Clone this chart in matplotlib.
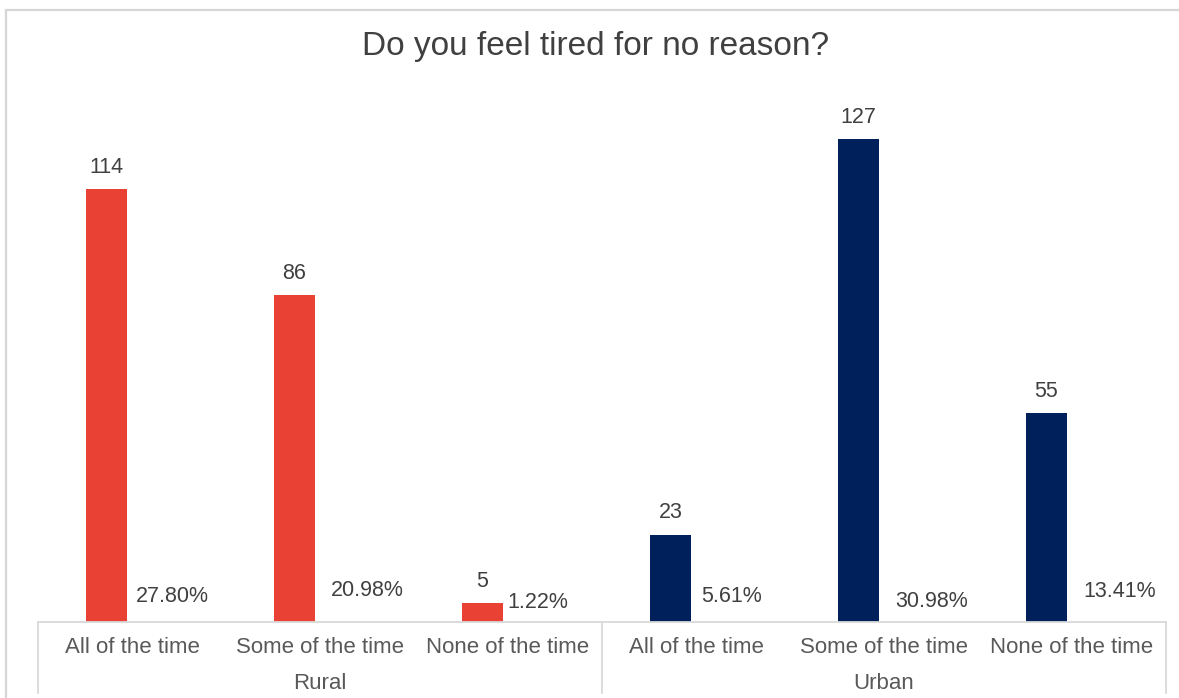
import matplotlib
matplotlib.use("Agg")
import matplotlib.pyplot as plt
from matplotlib.patches import Rectangle

plt.rcParams['font.family'] = ['Liberation Sans', 'DejaVu Sans']

# data
groups = ['Rural', 'Urban']
answers = ['All of the time', 'Some of the time', 'None of the time']
counts = [114, 86, 5, 23, 127, 55]
percents = ['27.80%', '20.98%', '1.22%', '5.61%', '30.98%', '13.41%']
group_colors = ['#E94234', '#00205B']

# layout: where each percentage label sits (offset from category centre, height above axis)
pct_label_dx = [0.214, 0.251, 0.160, 0.187, 0.251, 0.251]
pct_label_y = [6.6, 8.4, 5.0, 6.6, 5.5, 7.9]

W, H = 1179, 698
fig = plt.figure(figsize=(W / 100, H / 100), dpi=100)
ax = fig.add_axes([38 / W, 76 / H, 1128 / W, 532 / H])

n = len(answers)
xs = list(range(len(counts)))
colors = [group_colors[i // n] for i in xs]
bar_x = [x - 0.136 for x in xs]
ax.bar(bar_x, counts, width=0.22, color=colors)

text_col = '#595959'
for x, bx, c, p, dx, py in zip(xs, bar_x, counts, percents, pct_label_dx, pct_label_y):
    ax.annotate(str(c), (bx, c), xytext=(0, 8), textcoords='offset points',
                ha='center', va='bottom', fontsize=15.5, color='#404040')
    ax.text(x + dx, py, p, ha='center', va='center', fontsize=15.5, color='#404040')

ax.set_xlim(-0.5, len(counts) - 0.5)
ax.set_ylim(0, 140)
ax.set_xticks([])
ax.set_yticks([])
for s in ['top', 'left', 'right']:
    ax.spines[s].set_visible(False)
ax.spines['bottom'].set_color('#D9D9D9')
ax.spines['bottom'].set_linewidth(1.3)

# category axis: sub-labels, group labels and separators
trans = ax.get_xaxis_transform()
for x in xs:
    ax.text(x, -0.047, answers[x % n], transform=trans, ha='center', va='center',
            fontsize=16, color=text_col)
for g, name in enumerate(groups):
    ax.text(g * n + (n - 1) / 2, -0.115, name, transform=trans, ha='center',
            va='center', fontsize=16, color=text_col)
for sx in [-0.5, n - 0.5, 2 * n - 0.5]:
    ax.plot([sx, sx], [0, -0.133], transform=trans, color='#D9D9D9', lw=1.3,
            clip_on=False)

fig.text(0.505, 1 - 46 / H, 'Do you feel tired for no reason?', ha='center',
         va='center', fontsize=24, color='#404040')

# chart area border (only top/left visible in the crop)
fig.patches.append(Rectangle((6 / W, -0.1), 1.2, 1 - 10 / H + 0.1,
                             transform=fig.transFigure, fill=False,
                             edgecolor='#D6D6D6', lw=1.6))

fig.savefig('out.png', dpi=100)
